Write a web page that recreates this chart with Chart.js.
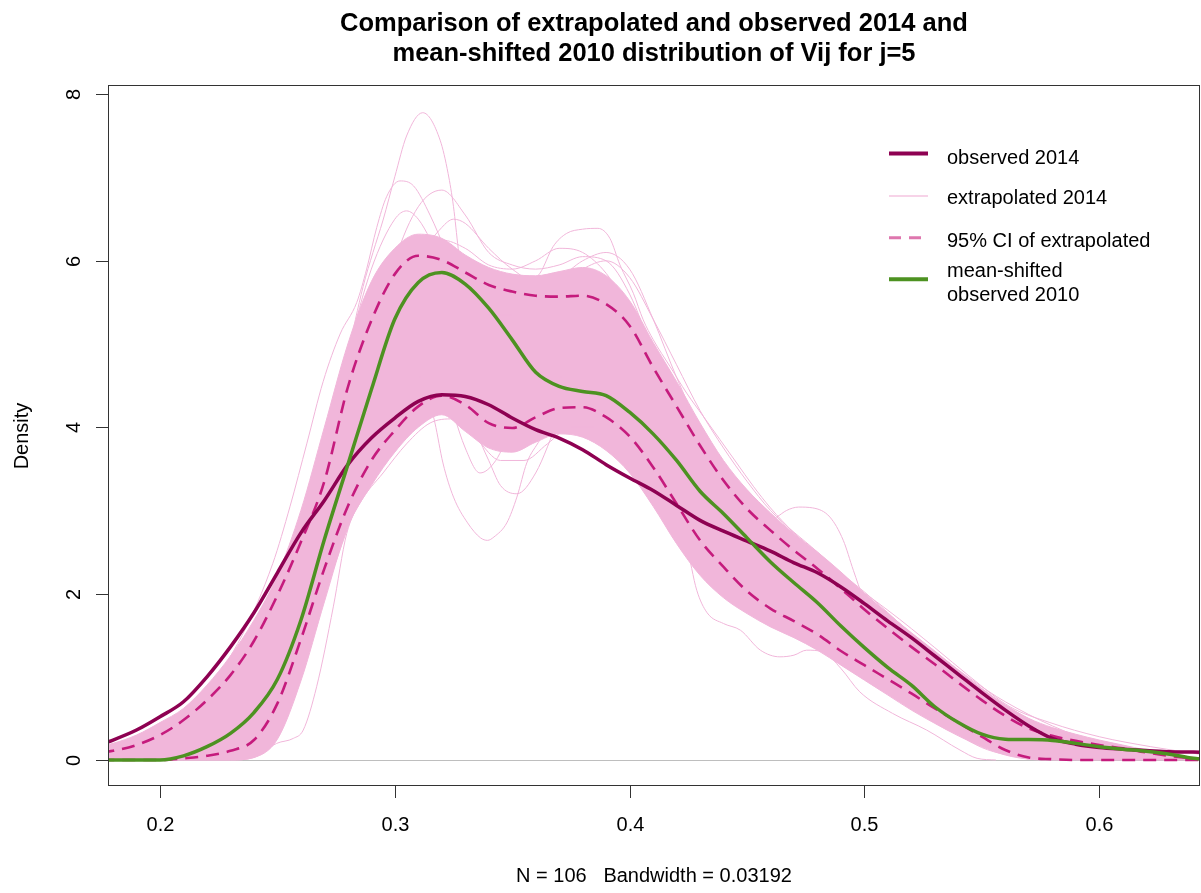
<!DOCTYPE html>
<html>
<head>
<meta charset="utf-8">
<script src="https://cdn.jsdelivr.net/npm/chart.js"></script>
<style>
html,body{margin:0;padding:0;background:#ffffff;}
#wrap{width:1201px;height:893px;}
canvas{display:block;}
</style>
</head>
<body>
<div id="wrap"><canvas id="c" width="1201" height="893"></canvas></div>
<script>
// ---------------- data ----------------
const titleLines = ['Comparison of extrapolated and observed 2014 and', 'mean-shifted 2010 distribution of Vij for j=5'];
const xAxisTitle = 'N = 106   Bandwidth = 0.03192';
const yAxisTitle = 'Density';
const xTicks = [0.2, 0.3, 0.4, 0.5, 0.6];
const xTickLabels = ['0.2', '0.3', '0.4', '0.5', '0.6'];
const yTicks = [0, 2, 4, 6, 8];
const yTickLabels = ['0', '2', '4', '6', '8'];
const legendLabels = [['observed 2014'], ['extrapolated 2014'], ['95% CI of extrapolated'], ['mean-shifted', 'observed 2010']];

const xGrid = [0.175,0.18,0.19,0.20,0.21,0.22,0.23,0.24,0.25,0.26,0.27,0.28,0.29,0.30,0.31,0.32,0.33,0.34,0.35,0.36,0.37,0.38,0.39,0.40,0.41,0.42,0.43,0.44,0.45,0.46,0.47,0.48,0.49,0.50,0.51,0.52,0.53,0.54,0.55,0.56,0.57,0.58,0.59,0.60,0.61,0.62,0.63,0.64,0.645];
const observed2014 = [0.19,0.24,0.36,0.52,0.70,1.00,1.36,1.77,2.25,2.73,3.12,3.55,3.87,4.11,4.31,4.39,4.37,4.27,4.11,3.97,3.87,3.73,3.55,3.39,3.24,3.06,2.88,2.75,2.63,2.51,2.37,2.25,2.08,1.88,1.67,1.47,1.25,1.03,0.81,0.60,0.41,0.26,0.19,0.15,0.13,0.115,0.10,0.095,0.09];
const shifted2010 = [0,0,0,0,0.05,0.16,0.32,0.57,0.97,1.68,2.65,3.55,4.45,5.3,5.74,5.86,5.72,5.43,5.05,4.66,4.49,4.43,4.38,4.18,3.92,3.60,3.23,2.96,2.67,2.38,2.13,1.89,1.61,1.35,1.11,0.90,0.64,0.45,0.31,0.25,0.245,0.235,0.20,0.16,0.13,0.105,0.07,0.02,0.01];
const ciUpper = [0.09,0.11,0.18,0.30,0.48,0.72,1.02,1.43,1.98,2.62,3.35,4.48,5.28,5.84,6.06,6.01,5.86,5.71,5.63,5.58,5.57,5.58,5.48,5.22,4.72,4.25,3.78,3.36,3.02,2.76,2.52,2.30,2.06,1.81,1.58,1.36,1.15,0.93,0.72,0.53,0.38,0.29,0.23,0.18,0.14,0.09,0.05,0.02,0.01];
const ciLower = [0,0,0,0,0.02,0.05,0.11,0.24,0.68,1.45,2.3,3.05,3.6,3.96,4.25,4.38,4.27,4.05,3.99,4.12,4.23,4.24,4.12,3.89,3.52,3.08,2.64,2.32,2.03,1.82,1.67,1.51,1.31,1.14,0.97,0.80,0.62,0.45,0.28,0.12,0.03,0.01,0,0,0,0,0,0,0];
// dense part of the extrapolated curves (where they merge into solid pink)
const bandUpper = [0.17,0.2,0.3,0.45,0.62,0.9,1.25,1.68,2.22,3.0,4.0,5.0,5.75,6.15,6.32,6.27,6.07,5.92,5.84,5.82,5.87,5.92,5.82,5.52,5.02,4.55,4.05,3.6,3.25,2.97,2.72,2.5,2.26,2.0,1.76,1.53,1.31,1.08,0.86,0.66,0.5,0.39,0.31,0.24,0.18,0.12,0.07,0.03,0.02];
const bandLower = [0,0,0,0,0,0,0,0.03,0.25,0.95,1.9,2.8,3.3,3.7,4.0,4.15,3.95,3.75,3.7,3.82,3.92,3.88,3.72,3.45,3.05,2.6,2.22,1.95,1.76,1.6,1.47,1.32,1.14,0.96,0.78,0.6,0.44,0.29,0.16,0.06,0.01,0,0,0,0,0,0,0,0];
// individual extrapolated curves that stand out of the dense band
const tallX = [0.24,0.25,0.26,0.27,0.28,0.2865,0.2907,0.295,0.30,0.305,0.3119,0.3193,0.3227,0.325,0.327,0.33,0.335,0.34,0.35,0.36,0.37,0.38,0.39,0.40,0.41,0.42,0.43,0.44,0.46,0.48,0.50,0.52,0.54,0.56,0.58,0.60];
const tallY = [0.2,0.8,1.8,3.2,4.85,5.69,6.1,6.49,7.01,7.5,7.78,7.45,7.05,6.65,6.15,5.5,4.8,4.4,4.3,4.5,4.8,5.0,4.9,4.5,3.9,3.2,2.6,2.2,1.8,1.5,1.2,0.9,0.5,0.2,0.06,0.01];
const dipX = [0.24,0.26,0.28,0.29,0.30,0.31,0.3171,0.3205,0.325,0.331,0.3365,0.3395,0.3422,0.3477,0.352,0.3562,0.3618,0.37,0.38,0.39,0.40,0.42,0.45,0.48,0.52,0.56,0.59];
const dipY = [0.1,1.0,3.6,4.6,5.2,4.8,4.05,3.57,3.16,2.85,2.67,2.64,2.68,2.85,3.16,3.57,3.85,4.3,4.65,4.75,4.45,3.3,2.2,1.6,0.9,0.2,0.02];
const humpX = [0.25,0.27,0.29,0.30,0.31,0.32,0.33,0.34,0.35,0.3618,0.3674,0.3732,0.38,0.3865,0.3916,0.3959,0.4016,0.4058,0.4101,0.4172,0.4243,0.4314,0.4385,0.4456,0.4527,0.46,0.47,0.48,0.50,0.52,0.54,0.56,0.58,0.60,0.62,0.645];
const humpY = [1.3,2.9,4.9,5.6,5.95,5.9,5.7,5.55,5.6,5.85,6.17,6.33,6.38,6.39,6.27,5.95,5.61,5.29,5.05,4.73,4.41,4.13,3.85,3.57,3.29,3.03,2.73,2.47,2.02,1.52,1.07,0.66,0.36,0.18,0.08,0.02];
const leftX = [0.20,0.22,0.235,0.248,0.2554,0.2625,0.2695,0.2767,0.2838,0.288,0.2923,0.2965,0.3022,0.308,0.315,0.322,0.33,0.34,0.35,0.36,0.37,0.38,0.39,0.40,0.42,0.44,0.47,0.50,0.53,0.56,0.60,0.645];
const leftY = [0.4,0.85,1.5,2.36,3.05,3.8,4.55,5.12,5.5,5.9,6.4,6.77,6.96,6.9,6.55,6.1,5.6,5.35,5.35,5.5,5.6,5.45,5.1,4.5,3.5,2.9,2.3,1.6,1.0,0.45,0.12,0.02];
const bumpX = [0.25,0.27,0.29,0.31,0.33,0.35,0.37,0.39,0.41,0.43,0.44,0.452,0.4626,0.4669,0.472,0.478,0.4853,0.491,0.4953,0.4995,0.505,0.515,0.53,0.55,0.57,0.60,0.63];
const bumpY = [1.0,2.8,4.6,5.3,5.2,5.1,5.2,5.3,4.6,3.4,3.0,2.8,2.92,3.0,3.04,3.03,2.92,2.64,2.28,1.95,1.65,1.35,1.0,0.6,0.3,0.1,0.02];
const lacyX = [0.25,0.27,0.29,0.31,0.33,0.35,0.37,0.39,0.40,0.41,0.418,0.4243,0.4286,0.433,0.44,0.4472,0.4557,0.464,0.47,0.4754,0.4824,0.49,0.498,0.512,0.5265,0.5407,0.548,0.556];
const lacyY = [0.5,2.0,3.5,4.3,4.1,3.9,4.1,4.0,3.6,3.2,2.9,2.56,2.04,1.77,1.64,1.56,1.32,1.24,1.26,1.32,1.3,1.1,0.82,0.56,0.36,0.12,0.02,0];
const lowX = [0.175,0.23,0.24,0.2497,0.2568,0.261,0.2667,0.2738,0.2795,0.2852,0.295,0.305,0.315,0.325,0.335,0.345,0.355,0.365,0.375,0.385,0.395,0.41,0.43,0.45,0.47,0.49,0.51,0.53,0.55,0.57];
const lowY = [0,0,0.03,0.2,0.26,0.36,0.88,1.84,2.72,3.09,3.45,3.8,4.05,4.1,3.85,3.6,3.6,3.8,4.0,4.0,3.8,3.3,2.5,1.9,1.55,1.25,0.9,0.5,0.15,0.01];
const highX = [0.25,0.27,0.28,0.29,0.30,0.31,0.32,0.33,0.34,0.35,0.36,0.37,0.38,0.39,0.40,0.41,0.42,0.43,0.44,0.46,0.48,0.50,0.52,0.54,0.56,0.58,0.60,0.62,0.645];
const highY = [0.9,2.2,3.5,4.9,6.0,6.65,6.85,6.55,6.1,5.95,5.9,5.95,6.05,6.0,5.6,4.9,4.2,3.6,3.2,2.6,2.2,1.8,1.3,0.9,0.55,0.3,0.15,0.07,0.02];
const tailX = [0.25,0.27,0.29,0.31,0.33,0.35,0.37,0.39,0.41,0.43,0.45,0.47,0.49,0.51,0.53,0.545,0.562,0.579,0.60,0.622,0.645];
const tailY = [1.5,3.2,5.0,5.7,5.5,5.1,5.3,5.4,4.6,3.6,2.95,2.55,2.2,1.8,1.35,1.0,0.64,0.45,0.28,0.16,0.06];
const secondX = [0.25,0.27,0.29,0.30,0.31,0.32,0.33,0.34,0.35,0.36,0.37,0.38,0.39,0.40,0.41,0.42,0.43,0.45,0.47,0.50,0.53,0.56,0.60,0.645];
const secondY = [1.1,2.6,4.7,5.6,6.05,6.25,6.15,5.95,5.9,6.0,6.15,6.1,5.85,5.4,4.85,4.3,3.8,3.0,2.55,1.9,1.2,0.55,0.15,0.02];
const archX = [0.25,0.27,0.29,0.31,0.32,0.33,0.34,0.345,0.352,0.36,0.37,0.38,0.39,0.40,0.42,0.44,0.46,0.48,0.50,0.53,0.56,0.59];
const archY = [0.6,2.1,3.9,4.6,4.55,4.2,3.6,3.3,3.2,3.45,4.1,4.6,4.7,4.4,3.3,2.4,1.9,1.6,1.3,0.75,0.2,0.02];
const arch2X = [0.25,0.27,0.29,0.30,0.31,0.32,0.33,0.3363,0.343,0.35,0.36,0.37,0.38,0.40,0.42,0.45,0.48,0.51,0.54,0.57,0.60];
const arch2Y = [0.7,2.4,4.4,5.1,5.2,4.6,3.75,3.45,3.6,4.0,4.4,4.6,4.55,4.0,3.0,2.0,1.5,1.0,0.5,0.12,0.01];
const earlyX = [0.24,0.26,0.27,0.28,0.29,0.30,0.305,0.31,0.32,0.33,0.34,0.35,0.36,0.37,0.38,0.39,0.40,0.42,0.44,0.47,0.50,0.54,0.58,0.62];
const earlyY = [0.6,2.4,3.7,4.9,5.9,6.5,6.6,6.5,6.0,5.6,5.5,5.6,5.75,5.85,5.8,5.6,5.2,4.0,3.1,2.5,1.8,1.0,0.35,0.06];
const twinX = [0.25,0.27,0.29,0.30,0.31,0.32,0.325,0.33,0.34,0.35,0.36,0.37,0.38,0.39,0.40,0.41,0.42,0.44,0.46,0.49,0.52,0.56,0.60,0.64];
const twinY = [0.8,2.3,4.3,5.3,6.0,6.4,6.5,6.45,6.15,5.9,5.75,5.8,6.0,6.1,5.9,5.3,4.6,3.4,2.8,2.2,1.5,0.6,0.15,0.02];
const slopeX = [0.25,0.28,0.30,0.32,0.34,0.36,0.38,0.39,0.40,0.41,0.42,0.43,0.44,0.45,0.46,0.48,0.50,0.53,0.56,0.60,0.64];
const slopeY = [1.0,3.6,5.4,5.9,5.6,5.5,5.9,6.0,5.8,5.3,4.75,4.2,3.75,3.35,3.0,2.5,2.0,1.3,0.7,0.2,0.03];

// ---------------- styling ----------------
const FONT = '"Liberation Sans", Arial, Helvetica, sans-serif';
const C_OBS = '#8E0152', C_CI = '#C51B7D', C_CI_LEG = '#DE77AE', C_PINK = '#F1B6DA', C_GREEN = '#4D9221';

const pts = (xs, ys) => xs.map((x, i) => ({x: x, y: ys[i]}));
const line = (label, xs, ys, color, width, extra) => Object.assign({
  label: label, data: pts(xs, ys), borderColor: color, backgroundColor: color,
  borderWidth: width, pointRadius: 0, fill: false, cubicInterpolationMode: 'monotone',
  borderCapStyle: 'butt', borderJoinStyle: 'round'
}, extra || {});

// index 0 is drawn last (on top)
const datasets = [
  line('mean-shifted observed 2010', xGrid, shifted2010, C_GREEN, 3.5),
  line('observed 2014', xGrid, observed2014, C_OBS, 3.5),
  line('95% CI upper', xGrid, ciUpper, C_CI, 2.6, {borderDash: [13, 8]}),
  line('95% CI lower', xGrid, ciLower, C_CI, 2.6, {borderDash: [13, 8]}),
  line('extrapolated a', tallX, tallY, C_PINK, 1),
  line('extrapolated b', dipX, dipY, C_PINK, 1),
  line('extrapolated c', humpX, humpY, C_PINK, 1),
  line('extrapolated d', leftX, leftY, C_PINK, 1),
  line('extrapolated e', bumpX, bumpY, C_PINK, 1),
  line('extrapolated f', lacyX, lacyY, C_PINK, 1),
  line('extrapolated g', lowX, lowY, C_PINK, 1),
  line('extrapolated h', highX, highY, C_PINK, 1),
  line('extrapolated i', tailX, tailY, C_PINK, 1),
  line('extrapolated k', secondX, secondY, C_PINK, 1),
  line('extrapolated l', archX, archY, C_PINK, 1),
  line('extrapolated m', arch2X, arch2Y, C_PINK, 1),
  line('extrapolated n', earlyX, earlyY, C_PINK, 1),
  line('extrapolated o', twinX, twinY, C_PINK, 1),
  line('extrapolated p', slopeX, slopeY, C_PINK, 1),
  line('band lower', xGrid, bandLower, C_PINK, 1)
];
const bandLowerIndex = datasets.length - 1;
datasets.push(line('band upper', xGrid, bandUpper, C_PINK, 1, {fill: bandLowerIndex, backgroundColor: C_PINK}));

const rStyle = {
  id: 'rStyle',
  beforeDatasetsDraw(chart) {
    const {ctx, chartArea: a, scales: {y}} = chart;
    const p = Math.round(y.getPixelForValue(0)) + 0.5;
    ctx.save();
    ctx.strokeStyle = '#BEBEBE'; ctx.lineWidth = 1;
    ctx.beginPath(); ctx.moveTo(a.left, p); ctx.lineTo(a.right, p); ctx.stroke();
    ctx.restore();
  },
  afterDraw(chart) {
    const {ctx, chartArea: a, scales: {x, y}} = chart;
    ctx.save();
    // plot box
    ctx.strokeStyle = '#333333'; ctx.lineWidth = 1;
    ctx.strokeRect(a.left + 0.5, a.top - 0.5, a.right - a.left - 1, a.bottom - a.top);
    // x axis ticks + labels
    ctx.fillStyle = '#000000';
    ctx.font = '20px ' + FONT;
    ctx.textAlign = 'center'; ctx.textBaseline = 'alphabetic';
    x.ticks.forEach((t, i) => {
      const px = Math.round(x.getPixelForValue(t.value)) + 0.5;
      ctx.beginPath(); ctx.moveTo(px, a.bottom - 0.5); ctx.lineTo(px, a.bottom + 12); ctx.stroke();
      ctx.fillText(xTickLabels[i], px, a.bottom + 45);
    });
    // y axis ticks + rotated labels
    y.ticks.forEach((t, i) => {
      const py = Math.round(y.getPixelForValue(t.value)) + 0.5;
      ctx.beginPath(); ctx.moveTo(a.left - 12, py); ctx.lineTo(a.left + 0.5, py); ctx.stroke();
      ctx.save(); ctx.translate(a.left - 28.5, py); ctx.rotate(-Math.PI / 2);
      ctx.fillText(yTickLabels[i], 0, 0); ctx.restore();
    });
    // axis titles
    const cx = (a.left + a.right) / 2;
    ctx.fillText(xAxisTitle, cx, 881.5);
    ctx.save(); ctx.translate(27.6, (a.top + a.bottom) / 2); ctx.rotate(-Math.PI / 2);
    ctx.fillText(yAxisTitle, 0, 0); ctx.restore();
    // title
    ctx.font = 'bold 25.5px ' + FONT;
    ctx.fillText(titleLines[0], cx, 31);
    ctx.fillText(titleLines[1], cx, 61);
    // legend
    ctx.font = '20px ' + FONT;
    ctx.textAlign = 'left';
    const lx0 = 889, lx1 = 928, tx = 947;
    const seg = (yy, color, w, dash) => {
      ctx.save(); ctx.strokeStyle = color; ctx.lineWidth = w; ctx.lineCap = 'butt';
      ctx.setLineDash(dash || []);
      ctx.beginPath(); ctx.moveTo(lx0, yy); ctx.lineTo(lx1, yy); ctx.stroke(); ctx.restore();
    };
    seg(153.5, C_OBS, 4);
    ctx.fillText(legendLabels[0][0], tx, 164);
    seg(196, '#EFA8D2', 1.2);
    ctx.fillText(legendLabels[1][0], tx, 204);
    seg(237.7, C_CI_LEG, 3, [12, 8]);
    ctx.fillText(legendLabels[2][0], tx, 246.7);
    seg(279.3, C_GREEN, 4);
    ctx.fillText(legendLabels[3][0], tx, 277.3);
    ctx.fillText(legendLabels[3][1], tx, 300.7);
    ctx.restore();
  }
};

new Chart(document.getElementById('c'), {
  type: 'line',
  data: {datasets: datasets},
  options: {
    responsive: false,
    animation: false,
    devicePixelRatio: 1,
    events: [],
    layout: {padding: {left: 0, top: 86, right: 1, bottom: 0}},
    plugins: {legend: {display: false}, title: {display: false}, tooltip: {enabled: false}},
    scales: {
      x: {
        type: 'linear', min: 0.17785, max: 0.64293,
        grid: {display: false}, border: {display: false}, ticks: {display: false},
        afterBuildTicks: s => { s.ticks = xTicks.map(v => ({value: v})); },
        afterFit: s => { s.height = 107; }
      },
      y: {
        type: 'linear', min: -0.3125, max: 8.101,
        grid: {display: false}, border: {display: false}, ticks: {display: false},
        afterBuildTicks: s => { s.ticks = yTicks.map(v => ({value: v})); },
        afterFit: s => { s.width = 108; }
      }
    }
  },
  plugins: [rStyle]
});
</script>
</body>
</html>
